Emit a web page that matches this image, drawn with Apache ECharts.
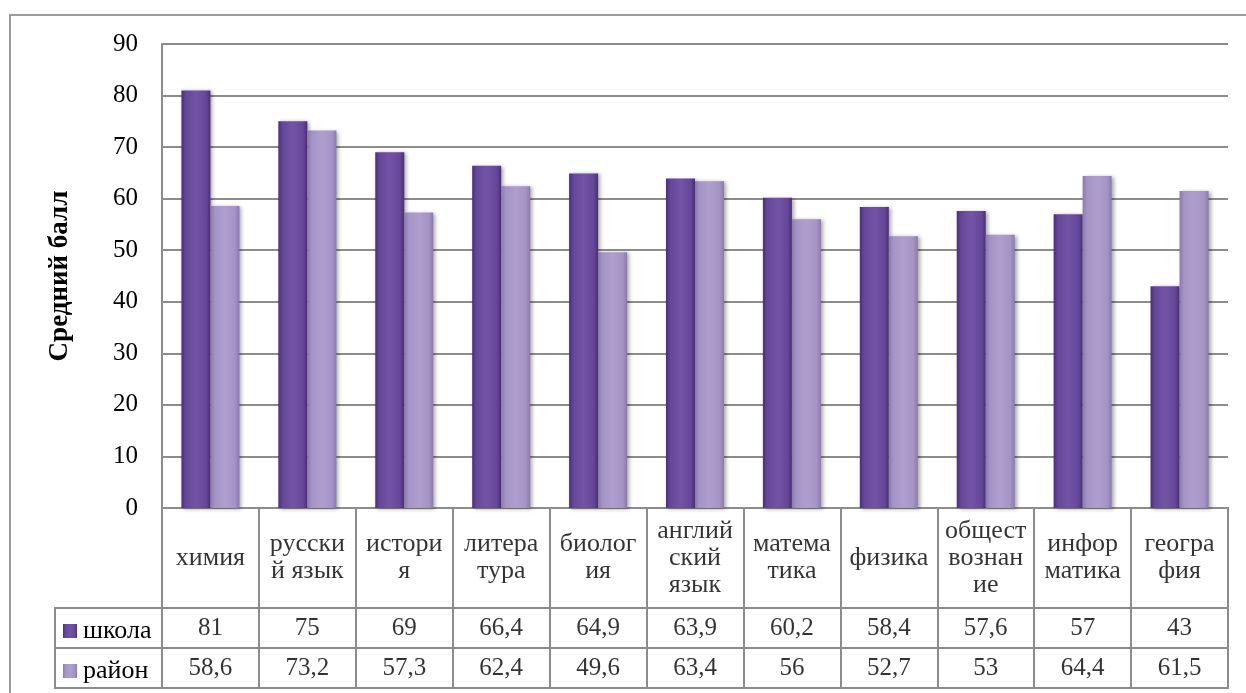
<!DOCTYPE html>
<html>
<head>
<meta charset="utf-8">
<script src="https://cdn.jsdelivr.net/npm/echarts@6/dist/echarts.min.js"></script>
<style>
html,body{margin:0;padding:0;background:#fff;}
#chart{width:1246px;height:693px;}
</style>
</head>
<body>
<div id="chart"></div>
<script>
const categories = ['химия','русски\nй язык','истори\nя','литера\nтура','биолог\nия','англий\nский\nязык','матема\nтика','физика','общест\nвознан\nие','инфор\nматика','геогра\nфия'];
const schoolValues = [81, 75, 69, 66.4, 64.9, 63.9, 60.2, 58.4, 57.6, 57, 43];
const districtValues = [58.6, 73.2, 57.3, 62.4, 49.6, 63.4, 56, 52.7, 53, 64.4, 61.5];
const seriesNames = ['школа', 'район'];
const yTicks = {min: 0, max: 90, interval: 10};

const FONT = "'Liberation Serif', 'Times New Roman', serif";
const GRID_COLOR = '#8c8c8c';
const fmt = v => String(v).replace('.', ',');

const darkGrad = {type:'linear',x:0,y:0,x2:1,y2:0,colorStops:[
  {offset:0,color:'#4a2f74'},{offset:0.15,color:'#65479a'},{offset:0.5,color:'#7353a6'},{offset:0.85,color:'#65479a'},{offset:1,color:'#4a2f74'}]};
const lightGrad = {type:'linear',x:0,y:0,x2:1,y2:0,colorStops:[
  {offset:0,color:'#8979ad'},{offset:0.15,color:'#a494c5'},{offset:0.5,color:'#ae9fce'},{offset:0.85,color:'#a494c5'},{offset:1,color:'#8979ad'}]};

const L = 162, R = 18;
const tableAxisX = idx => ({
  type:'category', gridIndex: idx, data: categories, boundaryGap: true,
  axisLine:{show:false}, axisTick:{show:false}, axisLabel:{show:false},
  splitLine:{show:true, interval:0, lineStyle:{color:GRID_COLOR, width:2}}
});
const tableAxisY = idx => ({
  type:'value', gridIndex: idx, min:0, max:1, show:false
});
const tableSeries = (idx, name, values, size, lineH) => ({
  type:'scatter', name: name, xAxisIndex: idx, yAxisIndex: idx,
  symbolSize: 1, itemStyle:{color:'transparent'}, silent:true,
  data: values.map((v,i)=>[i, 0.5, v]),
  label:{show:true, position:'inside', color:'#000', fontFamily:FONT, fontSize:size, lineHeight:lineH,
    formatter: p => typeof p.data[2] === 'number' ? fmt(p.data[2]) : p.data[2]}
});

const option = {
  backgroundColor:'#fff',
  animation:false,
  textStyle:{fontFamily:FONT},
  grid:[
    {left:L, right:R, top:44, height:464},
    {left:L, right:R, top:508, height:100, show:true, borderColor:GRID_COLOR, borderWidth:2},
    {left:L, right:R, top:608, height:40, show:true, borderColor:GRID_COLOR, borderWidth:2},
    {left:L, right:R, top:648, height:40, show:true, borderColor:GRID_COLOR, borderWidth:2}
  ],
  legend:{
    orient:'vertical', left:58, top:613, itemGap:14, itemWidth:14, itemHeight:14,
    icon:'rect', data: seriesNames, selectedMode:false,
    textStyle:{fontFamily:FONT, fontSize:26, lineHeight:26, color:'#000', padding:[0,0,0,1]}
  },
  graphic:[
    {type:'rect', shape:{x:10, y:15, width:1300, height:720}, style:{fill:'none', stroke:'#9a9a9a', lineWidth:2}, silent:true, z:-10},
    {type:'rect', shape:{x:55, y:608, width:107, height:40}, style:{fill:'none', stroke:GRID_COLOR, lineWidth:2}, silent:true},
    {type:'rect', shape:{x:55, y:648, width:107, height:40}, style:{fill:'none', stroke:GRID_COLOR, lineWidth:2}, silent:true}
  ],
  xAxis:[
    {type:'category', gridIndex:0, data:categories, boundaryGap:true,
     axisLine:{show:true, lineStyle:{color:GRID_COLOR, width:2}}, axisTick:{show:false}, axisLabel:{show:false}},
    tableAxisX(1), tableAxisX(2), tableAxisX(3)
  ],
  yAxis:[
    {type:'value', gridIndex:0, min:yTicks.min, max:yTicks.max, interval:yTicks.interval,
     name:'Средний балл', nameLocation:'middle', nameGap:88, nameRotate:90,
     nameTextStyle:{fontFamily:FONT, fontSize:27, fontWeight:'bold', color:'#000'},
     axisLine:{show:true, lineStyle:{color:GRID_COLOR, width:2}}, axisTick:{show:false},
     axisLabel:{fontFamily:FONT, fontSize:25, color:'#000', margin:24},
     splitLine:{show:true, lineStyle:{color:GRID_COLOR, width:2}}},
    tableAxisY(1), tableAxisY(2), tableAxisY(3)
  ],
  series:[
    {type:'bar', name:seriesNames[0], xAxisIndex:0, yAxisIndex:0, data:schoolValues, barWidth:29, barGap:'0%',
     itemStyle:{color:darkGrad, shadowBlur:4, shadowColor:'rgba(0,0,0,0.35)', shadowOffsetX:2, shadowOffsetY:1}},
    {type:'bar', name:seriesNames[1], xAxisIndex:0, yAxisIndex:0, data:districtValues, barWidth:29, barGap:'0%',
     itemStyle:{color:lightGrad, shadowBlur:4, shadowColor:'rgba(0,0,0,0.35)', shadowOffsetX:2, shadowOffsetY:1}},
    tableSeries(1, 'hdr', categories, 26, 27),
    tableSeries(2, 'tblSchool', schoolValues, 25, 26),
    tableSeries(3, 'tblDistrict', districtValues, 25, 26)
  ]
};

const chart = echarts.init(document.getElementById('chart'), null, {renderer:'canvas'});
chart.setOption(option);
</script>
</body>
</html>
